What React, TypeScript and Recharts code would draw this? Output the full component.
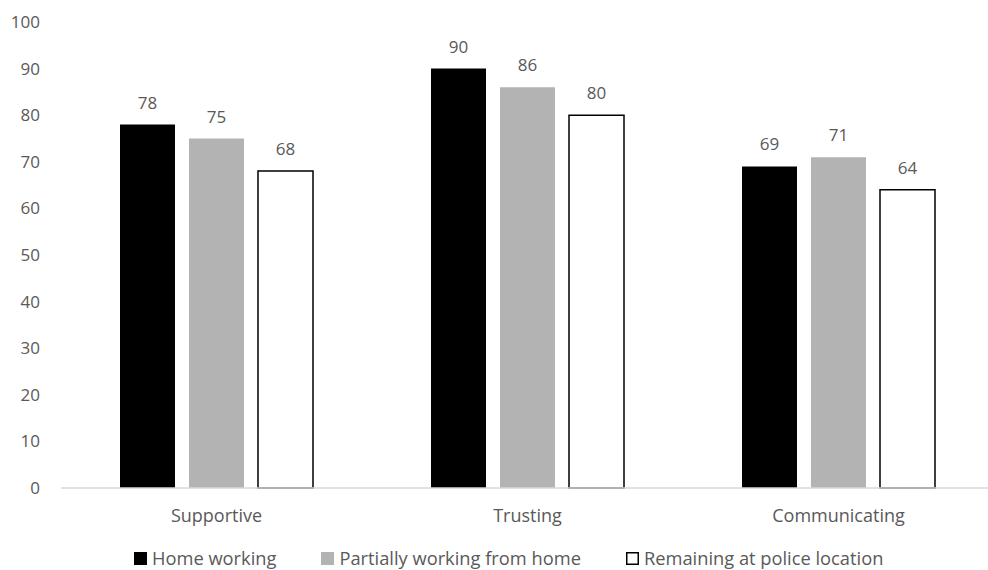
import React from "react";
import { BarChart, Bar, XAxis, YAxis, Legend, LabelList } from "recharts";

const categories = ["Supportive", "Trusting", "Communicating"];
const homeWorking = [78, 90, 69];
const partiallyHome = [75, 86, 71];
const remainingPolice = [68, 80, 64];
const yTicks = [0, 10, 20, 30, 40, 50, 60, 70, 80, 90, 100];

const seriesNames = ["Home working", "Partially working from home", "Remaining at police location"];

const data = categories.map((c, i) => ({
  name: c,
  home: homeWorking[i],
  partial: partiallyHome[i],
  remaining: remainingPolice[i],
}));

const TEXT = "#595959";

const legendItems = [
  { label: seriesNames[0], fill: "#000000", stroke: "#000000" },
  { label: seriesNames[1], fill: "#b3b3b3", stroke: "#b3b3b3" },
  { label: seriesNames[2], fill: "#ffffff", stroke: "#000000" },
];

const CustomLegend = () => (
  <div style={{ display: "flex", flexDirection: "row", paddingLeft: 134, height: 22, alignItems: "center" }}>
    {legendItems.map((it, i) => (
      <div key={i} style={{ display: "flex", alignItems: "center", marginRight: 45 }}>
        <svg width={13} height={13} style={{ marginRight: 5 }}>
          <rect x={0.75} y={0.75} width={11.5} height={11.5} fill={it.fill} stroke={it.stroke} strokeWidth={1.5} />
        </svg>
        <span style={{ color: TEXT, fontSize: 18.3, lineHeight: "22px", whiteSpace: "nowrap" }}>{it.label}</span>
      </div>
    ))}
  </div>
);

export default function App() {
  return (
    <div style={{ position: "absolute", left: 0, top: 0, width: 988, height: 570, overflow: "hidden", fontFamily: "'Open Sans', sans-serif", background: "#fff" }}>
      <BarChart
        width={1000}
        height={570}
        data={data}
        margin={{ top: 22, right: 6, left: 0, bottom: 30 }}
        barSize={55}
        barGap={14}
      >
        <YAxis
          domain={[0, 100]}
          ticks={yTicks}
          width={61}
          axisLine={false}
          tickLine={false}
          tickSize={0}
          tickMargin={21}
          tick={{ fill: TEXT, fontSize: 17 }}
          interval={0}
        />
        <Bar dataKey="home" name={seriesNames[0]} fill="#000000" isAnimationActive={false}>
          <LabelList dataKey="home" position="top" offset={16} fill={TEXT} fontSize={17} />
        </Bar>
        <Bar dataKey="partial" name={seriesNames[1]} fill="#b3b3b3" isAnimationActive={false}>
          <LabelList dataKey="partial" position="top" offset={16} fill={TEXT} fontSize={17} />
        </Bar>
        <Bar dataKey="remaining" name={seriesNames[2]} fill="#ffffff" stroke="#000000" strokeWidth={1.5} isAnimationActive={false}>
          <LabelList dataKey="remaining" position="top" offset={16} fill={TEXT} fontSize={17} />
        </Bar>
        <XAxis
          dataKey="name"
          height={30}
          axisLine={{ stroke: "#d9d9d9", strokeWidth: 1.5 }}
          tickLine={false}
          tickSize={0}
          tickMargin={21}
          tick={{ fill: TEXT, fontSize: 18 }}
        />
        <Legend
          verticalAlign="bottom"
          content={<CustomLegend />}
          wrapperStyle={{ top: 547, left: 0, width: 1000, height: 22, bottom: "auto" }}
        />
      </BarChart>
    </div>
  );
}
